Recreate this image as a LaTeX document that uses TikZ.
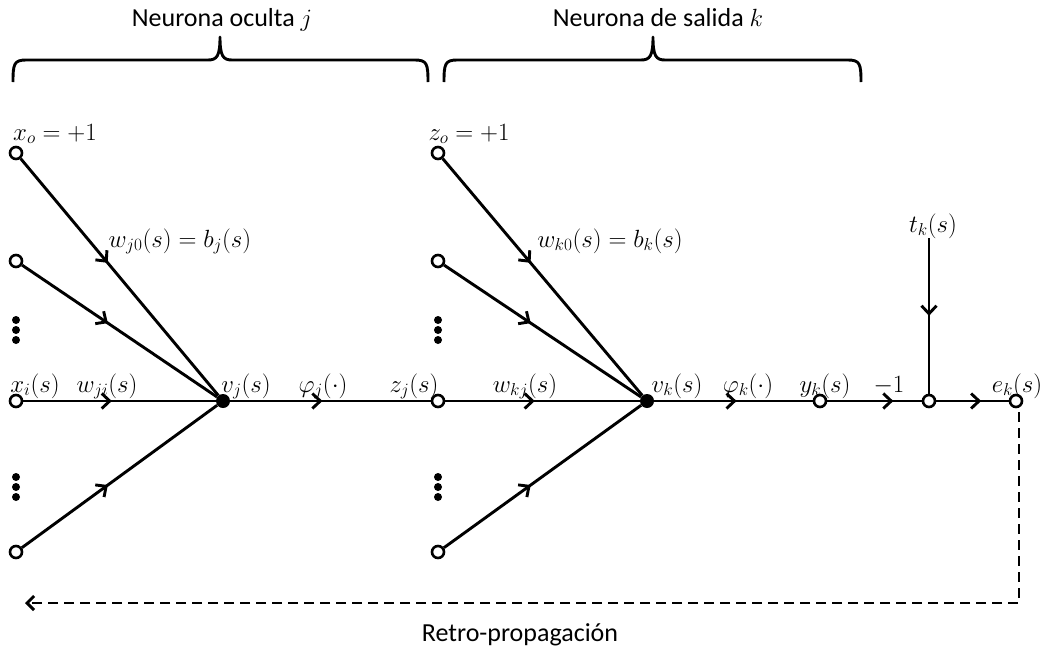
\documentclass[tikz,border=0pt]{standalone}
\usepackage{fontspec}
\setmainfont{Carlito}
\usetikzlibrary{arrows.meta,decorations.markings}
\begin{document}
\begin{tikzpicture}[x=1pt,y=-1pt,
  wire/.style={line width=2.9pt},
  midarrow/.style={postaction={decorate},decoration={markings,mark=at position #1 with {\arrow{Straight Barb[length=8pt,width=15pt]}}}},
  port/.style={circle,draw,line width=2.6pt,fill=white,minimum size=12pt,inner sep=0pt},
  sumdot/.style={circle,fill=black,minimum size=14pt,inner sep=0pt},
  vdot/.style={circle,fill=black,minimum size=8pt,inner sep=0pt},
  lab/.style={anchor=base,inner sep=0pt,font=\fontsize{25}{30}\selectfont},
  ttl/.style={anchor=base,inner sep=0pt,font=\fontsize{26}{30}\selectfont},
  bracestyle/.style={line width=2.9pt,line join=round},
  backprop/.style={line width=2.9pt,dash pattern=on 10pt off 6pt},
]
\useasboundingbox (0,0) rectangle (1045,651);

% braces
\draw[bracestyle] (13,82) .. controls (13,64) and (14,60) .. (26,60) -- (208,60)
  .. controls (217,60) and (220,56) .. (220,37) .. controls (220,56) and (223,60) .. (232,60)
  -- (415,60) .. controls (427,60) and (428,64) .. (428,82);
\draw[bracestyle] (444,82) .. controls (444,64) and (445,60) .. (457,60) -- (641,60)
  .. controls (650,60) and (653,56) .. (653,37) .. controls (653,56) and (656,60) .. (665,60)
  -- (848,60) .. controls (860,60) and (861,64) .. (861,82);
\node[ttl] (t1) at (222,26) {Neurona oculta $j$};
\node[ttl] (t2) at (658,26) {Neurona de salida $k$};

% hidden neuron j
\node[port] (x0) at (16,153) {};
\node[port] (x1) at (16,261) {};
\node[port] (xi) at (16,401) {};
\node[port] (xn) at (16,552) {};
\node[sumdot] (vj) at (223,401) {};
\node[port] (zj) at (438,401) {};
\foreach \n/\yy in {a/320,b/330,c/340,d/477,e/487,f/497}{
  \node[vdot] (dl\n) at (16,\yy) {};
  \node[vdot] (dr\n) at (438,\yy) {};
}

\draw[wire,midarrow=0.44] (x0) -- (vj);
\draw[wire,midarrow=0.44] (x1) -- (vj);
\draw[wire,midarrow=0.46] (xi) -- (vj);
\draw[wire,midarrow=0.44] (xn) -- (vj);
\draw[wire,midarrow=0.46] (vj) -- (zj);

% output neuron k
\node[port] (z0) at (438,153) {};
\node[port] (z1) at (438,261) {};
\node[port] (zn) at (438,552) {};
\node[sumdot] (vk) at (647,401) {};
\node[port] (yk) at (820,401) {};
\node[port] (jn) at (929,401) {};
\node[port] (ek) at (1016,401) {};
\coordinate (tk) at (929,238);

\draw[wire,midarrow=0.44] (z0) -- (vk);
\draw[wire,midarrow=0.44] (z1) -- (vk);
\draw[wire,midarrow=0.46] (zj) -- (vk);
\draw[wire,midarrow=0.44] (zn) -- (vk);
\draw[wire,midarrow=0.52] (vk) -- (yk);
\draw[wire,midarrow=0.70] (yk) -- (jn);
\draw[wire,midarrow=0.62] (jn) -- (ek);
\draw[wire,midarrow=0.50] (tk) -- (jn);

% back-propagation
\coordinate (bs) at (1019,412);
\coordinate (bc) at (1019,603);
\coordinate (be) at (25,603);
\draw[backprop,-{Straight Barb[length=7pt,width=14pt]}] (bs) -- (bc) -- (be);
\node[ttl] (rp) at (520,641) {Retro-propagación};

% labels
\node[lab] (lx0) at (55,140) {$x_o=+1$};
\node[lab] (lwj0) at (180,247) {$w_{j0}(s)=b_j(s)$};
\node[lab] (lxi) at (35,392) {$x_i(s)$};
\node[lab] (lwji) at (107,392) {$w_{ji}(s)$};
\node[lab] (lvj) at (246,392) {$v_j(s)$};
\node[lab] (lphij) at (323,392) {$\varphi_j(\cdot)$};
\node[lab] (lzj) at (414,392) {$z_j(s)$};
\node[lab] (lz0) at (469,140) {$z_o=+1$};
\node[lab] (lwk0) at (610,247) {$w_{k0}(s)=b_k(s)$};
\node[lab] (lwkj) at (525,392) {$w_{kj}(s)$};
\node[lab] (lvk) at (677,392) {$v_k(s)$};
\node[lab] (lphik) at (748,392) {$\varphi_k(\cdot)$};
\node[lab] (lyk) at (825,392) {$y_k(s)$};
\node[lab] (lm1) at (889,392) {$-1$};
\node[lab] (ltk) at (933,232) {$t_k(s)$};
\node[lab] (lek) at (1017,392) {$e_k(s)$};
\end{tikzpicture}
\end{document}
